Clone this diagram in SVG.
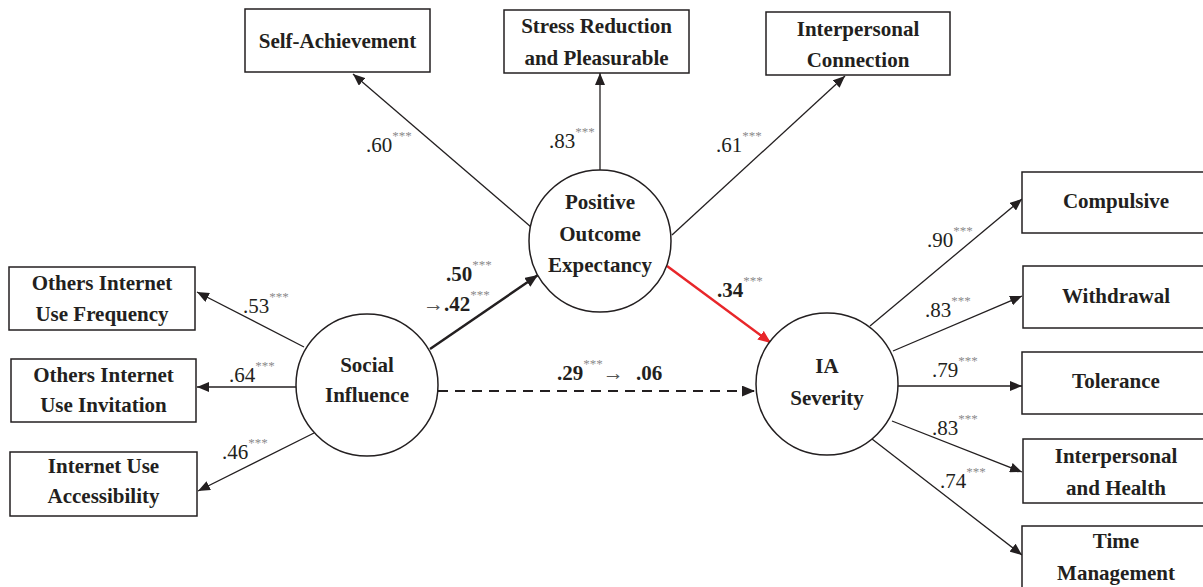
<svg xmlns="http://www.w3.org/2000/svg" width="1203" height="587" viewBox="0 0 1203 587">
<style>
.box{fill:#fff;stroke:#231f20;stroke-width:1.5}
.circ{fill:#fff;stroke:#231f20;stroke-width:1.5}
.nt{font-family:"Liberation Serif","Times New Roman",serif;font-weight:bold;font-size:21px;fill:#231f20;text-anchor:middle}
.lb{font-family:"Liberation Serif","Times New Roman",serif;font-size:21px;fill:#231f20}
.lbb{font-family:"Liberation Serif","Times New Roman",serif;font-size:21px;font-weight:bold;fill:#231f20}
.st{font-size:13px;fill:#8a8a8a;font-weight:normal}
.ar{font-weight:normal;fill:#555}
.ln{stroke:#231f20;stroke-width:1.3;fill:none;marker-end:url(#ah)}
.bold{stroke:#231f20;stroke-width:2.5;fill:none;marker-end:url(#ahb)}
.red{stroke:#e8262a;stroke-width:2.5;fill:none;marker-end:url(#ahr)}
.dash{stroke:#231f20;stroke-width:2;stroke-dasharray:10 7;fill:none;marker-end:url(#ahb)}
</style>
<defs>
<marker id="ah" viewBox="0 0 12 10" refX="12" refY="5" markerWidth="12" markerHeight="10" markerUnits="userSpaceOnUse" orient="auto"><path d="M0,0 L12,5 L0,10 z" fill="#231f20"/></marker>
<marker id="ahb" viewBox="0 0 12 10" refX="12" refY="5" markerWidth="13" markerHeight="11" markerUnits="userSpaceOnUse" orient="auto"><path d="M0,0 L12,5 L0,10 z" fill="#231f20"/></marker>
<marker id="ahr" viewBox="0 0 12 10" refX="12" refY="5" markerWidth="13" markerHeight="11" markerUnits="userSpaceOnUse" orient="auto"><path d="M0,0 L12,5 L0,10 z" fill="#e8262a"/></marker>
</defs>
<rect width="1203" height="587" fill="#fff"/>
<g id="connectors">
<line class="ln" x1="531" y1="227" x2="353" y2="74"/>
<line class="ln" x1="600" y1="171" x2="600" y2="73"/>
<line class="ln" x1="672" y1="235" x2="845" y2="76"/>
<line class="ln" x1="304" y1="347" x2="197" y2="292"/>
<line class="ln" x1="296" y1="387" x2="197" y2="387"/>
<line class="ln" x1="314" y1="433" x2="198" y2="491"/>
<line class="bold" x1="430" y1="349" x2="538" y2="275"/>
<line class="red" x1="667" y1="266" x2="771" y2="343"/>
<line class="dash" x1="438" y1="391" x2="755" y2="391"/>
<line class="ln" x1="870" y1="326" x2="1022" y2="199"/>
<line class="ln" x1="893" y1="351" x2="1022" y2="296"/>
<line class="ln" x1="898" y1="386" x2="1022" y2="386"/>
<line class="ln" x1="892" y1="421" x2="1022" y2="472"/>
<line class="ln" x1="872" y1="439" x2="1022" y2="555"/>
</g>
<g id="labels">
<text class="lb" x="366" y="152">.60<tspan class="st" dy="-12">***</tspan></text>
<text class="lb" x="549" y="148">.83<tspan class="st" dy="-12">***</tspan></text>
<text class="lb" x="716" y="152">.61<tspan class="st" dy="-12">***</tspan></text>
<text class="lb" x="243" y="313">.53<tspan class="st" dy="-12">***</tspan></text>
<text class="lb" x="229" y="382">.64<tspan class="st" dy="-12">***</tspan></text>
<text class="lb" x="222" y="459">.46<tspan class="st" dy="-12">***</tspan></text>
<text class="lbb" x="446" y="281">.50<tspan class="st" dy="-12">***</tspan></text>
<text class="lbb" x="423" y="311"><tspan class="ar">→</tspan>.42<tspan class="st" dy="-12">***</tspan></text>
<text class="lbb" x="717" y="297">.34<tspan class="st" dy="-12">***</tspan></text>
<text class="lbb" x="557" y="380">.29<tspan class="st" dy="-12">***</tspan><tspan class="ar" dy="12">→</tspan><tspan x="636">.06</tspan></text>
<text class="lb" x="927" y="247">.90<tspan class="st" dy="-12">***</tspan></text>
<text class="lb" x="925" y="317">.83<tspan class="st" dy="-12">***</tspan></text>
<text class="lb" x="932" y="377">.79<tspan class="st" dy="-12">***</tspan></text>
<text class="lb" x="932" y="435">.83<tspan class="st" dy="-12">***</tspan></text>
<text class="lb" x="940" y="488">.74<tspan class="st" dy="-12">***</tspan></text>
</g>
<g id="self-achievement"><rect class="box" x="245" y="9" width="185" height="63"/><text class="nt" x="337.5" y="48">Self-Achievement</text></g>
<g id="stress-reduction"><rect class="box" x="504" y="10" width="185" height="63"/><text class="nt" x="596.5" y="33">Stress Reduction</text><text class="nt" x="596.5" y="65">and Pleasurable</text></g>
<g id="interpersonal-connection"><rect class="box" x="766" y="12" width="184" height="63"/><text class="nt" x="858" y="36">Interpersonal</text><text class="nt" x="858" y="67">Connection</text></g>
<g id="others-frequency"><rect class="box" x="9" y="267" width="186" height="63"/><text class="nt" x="102" y="290">Others Internet</text><text class="nt" x="102" y="321">Use Frequency</text></g>
<g id="others-invitation"><rect class="box" x="11" y="359" width="185" height="63"/><text class="nt" x="103.5" y="382">Others Internet</text><text class="nt" x="103.5" y="412">Use Invitation</text></g>
<g id="accessibility"><rect class="box" x="10" y="452" width="187" height="64"/><text class="nt" x="103.5" y="473">Internet Use</text><text class="nt" x="103.5" y="503">Accessibility</text></g>
<g id="positive-outcome"><circle class="circ" cx="600" cy="241" r="71"/><text class="nt" x="600" y="209">Positive</text><text class="nt" x="600" y="241">Outcome</text><text class="nt" x="600" y="272">Expectancy</text></g>
<g id="social-influence"><circle class="circ" cx="367" cy="385" r="71"/><text class="nt" x="367" y="372">Social</text><text class="nt" x="367" y="402">Influence</text></g>
<g id="ia-severity"><circle class="circ" cx="827" cy="384" r="71"/><text class="nt" x="827" y="373">IA</text><text class="nt" x="827" y="405">Severity</text></g>
<g id="compulsive"><rect class="box" x="1022" y="172" width="200" height="61"/><text class="nt" x="1116" y="208">Compulsive</text></g>
<g id="withdrawal"><rect class="box" x="1023" y="266" width="200" height="62"/><text class="nt" x="1116" y="303">Withdrawal</text></g>
<g id="tolerance"><rect class="box" x="1022" y="352" width="200" height="62"/><text class="nt" x="1116" y="388">Tolerance</text></g>
<g id="interpersonal-health"><rect class="box" x="1023" y="439" width="200" height="64"/><text class="nt" x="1116" y="463">Interpersonal</text><text class="nt" x="1116" y="495">and Health</text></g>
<g id="time-management"><rect class="box" x="1022" y="526" width="200" height="80"/><text class="nt" x="1116" y="548">Time</text><text class="nt" x="1116" y="580">Management</text></g>
</svg>
